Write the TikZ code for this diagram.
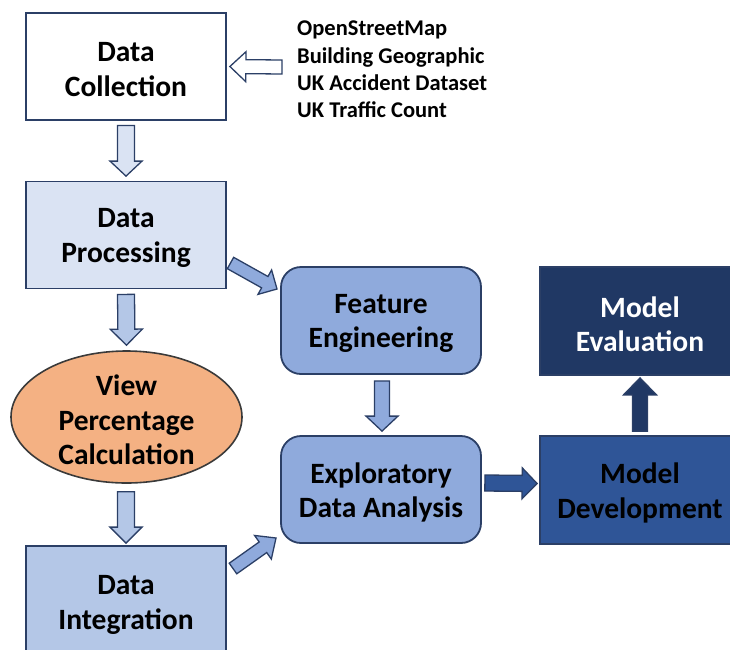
\documentclass[tikz,border=0pt]{standalone}
\usepackage{fontspec}
\setmainfont{Carlito}
\usetikzlibrary{calc,shapes.geometric}
\definecolor{edge}{HTML}{2B3F66}
\definecolor{ellEdge}{HTML}{3A3A3A}
\definecolor{fillA}{HTML}{DAE3F3}
\definecolor{fillB}{HTML}{B4C7E7}
\definecolor{fillC}{HTML}{8FAADC}
\definecolor{fillD}{HTML}{2F5597}
\definecolor{fillE}{HTML}{203864}
\definecolor{fillOr}{HTML}{F4B183}
\newcommand\blockarr[6]{%
  \path ($(#2)!#5!(#1)$) coordinate (BAh);
  \draw[#6] ($(#1)!#3!90:(#2)$) -- ($(BAh)!#3!90:(#2)$) -- ($(BAh)!#4!90:(#2)$)
    -- (#2) -- ($(BAh)!#4!-90:(#2)$) -- ($(BAh)!#3!-90:(#2)$) -- ($(#1)!#3!-90:(#2)$) -- cycle;}
\tikzset{
  boxtext/.style={font=\bfseries\fontsize{29.5}{34.5}\selectfont, align=center, text=black, yshift=-3pt, inner sep=0pt},
  sqbox/.style={draw=edge, line width=1.8pt, minimum width=200pt, minimum height=107pt, inner sep=0pt},
  rbox/.style={sqbox, rounded corners=20pt},
  barrow/.style={draw=edge, line width=1.3pt, line join=miter},
}
\begin{document}
\begin{tikzpicture}[x=1pt,y=-1pt]
\useasboundingbox (0,0) rectangle (730,649);
\clip (0,0) rectangle (730,649);
\node[sqbox, fill=white, label={[boxtext]center:Data\\Collection}] (dc) at (126,66.5) {};
\node[sqbox, fill=fillA, label={[boxtext]center:Data\\Processing}] (dp) at (126,235) {};
\node[ellipse, draw=ellEdge, line width=1.6pt, fill=fillOr, minimum width=231pt, minimum height=132pt, inner sep=0pt, label={[boxtext]center:View\\Percentage\\Calculation}] (vp) at (126.5,417) {};
\node[sqbox, fill=fillB, minimum height=112pt, label={[boxtext]center:Data\\Integration}] (di) at (126,602) {};
\node[rbox, fill=fillC, label={[boxtext]center:Feature\\Engineering}] (fe) at (381,320.5) {};
\node[rbox, fill=fillC, label={[boxtext]center:Exploratory\\Data Analysis}] (eda) at (381,489.5) {};
\node[sqbox, fill=fillD, minimum width=200pt, minimum height=108pt, label={[boxtext]center:Model\\Development}] (md) at (640,490) {};
\node[sqbox, fill=fillE, minimum width=200pt, minimum height=108pt, label={[boxtext, text=white]center:Model\\Evaluation}] (me) at (640,321) {};
\node[font=\bfseries\fontsize{22.5}{27.3}\selectfont, align=left, anchor=north west, inner sep=0pt] (src) at (297,21) {OpenStreetMap\\Building Geographic\\UK Accident Dataset\\UK Traffic Count};
% arrow end points
\coordinate (a1s) at (282,67);   \coordinate (a1e) at ($(dc.east)+(3,0)$);
\coordinate (a2s) at ($(dc.south)+(0,4.5)$); \coordinate (a2e) at ($(dp.north)+(0,-4.5)$);
\coordinate (a3s) at ($(dp.south)+(0,5)$); \coordinate (a3e) at ($(vp.north)+(0,-5)$);
\coordinate (a4s) at ($(vp.south)+(-0.5,8)$); \coordinate (a4e) at ($(di.north)+(0,-2)$);
\coordinate (a5s) at (230.5,263); \coordinate (a5e) at (277,289);
\coordinate (a6s) at (233,568.5); \coordinate (a6e) at (276,538);
\coordinate (a7s) at ($(fe.south)+(1,6)$); \coordinate (a7e) at ($(eda.north)+(1,-4)$);
\coordinate (a8s) at ($(eda.east)+(3,-6.5)$); \coordinate (a8e) at ($(md.west)+(-2,-6.5)$);
\coordinate (a9s) at ($(md.north)+(0,-4)$); \coordinate (a9e) at ($(me.south)+(0,2)$);
\blockarr{a1s}{a1e}{7pt}{15pt}{16pt}{barrow, fill=white}
\blockarr{a2s}{a2e}{8.5pt}{16pt}{15pt}{barrow, fill=fillA}
\blockarr{a3s}{a3e}{8.5pt}{16pt}{16pt}{barrow, fill=fillB}
\blockarr{a4s}{a4e}{8.5pt}{16pt}{16pt}{barrow, fill=fillB}
\blockarr{a5s}{a5e}{6.5pt}{14pt}{14pt}{barrow, fill=fillC}
\blockarr{a6s}{a6e}{6.5pt}{14.5pt}{16pt}{barrow, fill=fillC}
\blockarr{a7s}{a7e}{7.5pt}{16pt}{15pt}{barrow, fill=fillC}
\blockarr{a8s}{a8e}{8pt}{15.5pt}{15pt}{barrow, fill=fillD}
\blockarr{a9s}{a9e}{7.5pt}{16.5pt}{17pt}{barrow, fill=fillE}
\end{tikzpicture}
\end{document}
